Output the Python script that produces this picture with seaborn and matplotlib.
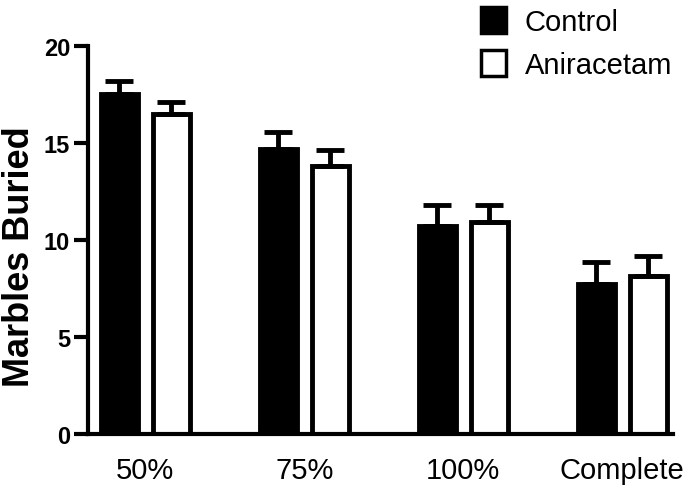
import seaborn as sns
import matplotlib.pyplot as plt
import matplotlib.patches as mpatches
import pandas as pd

conditions = ['50%', '75%', '100%', 'Complete']
groups = ['Control', 'Aniracetam']
control_mean = [17.55, 14.68, 10.70, 7.74]
control_sem = [0.65, 0.89, 1.12, 1.14]
aniracetam_mean = [16.47, 13.82, 10.93, 8.16]
aniracetam_sem = [0.63, 0.81, 0.89, 1.03]

data = pd.DataFrame({
    'condition': conditions * 2,
    'group': ['Control'] * 4 + ['Aniracetam'] * 4,
    'buried': control_mean + aniracetam_mean,
    'sem': control_sem + aniracetam_sem,
})

sns.set_style('ticks')
plt.rcParams['font.family'] = ['Liberation Sans', 'DejaVu Sans']
plt.rcParams['text.color'] = 'black'
plt.rcParams['axes.labelcolor'] = 'black'
plt.rcParams['xtick.color'] = 'black'
plt.rcParams['ytick.color'] = 'black'
plt.rcParams['axes.edgecolor'] = 'black'

fig = plt.figure(figsize=(6.94, 4.89), dpi=100)
ax = fig.add_axes([0.127, 0.110, 0.843, 0.794])

palette = {'Control': 'black', 'Aniracetam': 'white'}
sns.barplot(data=data, x='condition', y='buried', hue='group', order=conditions,
            hue_order=groups, palette=palette, edgecolor='black', linewidth=3.5,
            width=0.655, gap=0.29, errorbar=None, legend=False, ax=ax)

# upper-only SEM bars
for cont, g in zip(ax.containers, groups):
    sub = data[data['group'] == g].set_index('condition').loc[conditions]
    xs = [p.get_x() + p.get_width() / 2 for p in cont.patches]
    ax.errorbar(xs, sub['buried'], yerr=[[0] * len(xs), sub['sem']], fmt='none',
                ecolor='black', elinewidth=3.5, capsize=10, capthick=3.5, zorder=3)

ax.set_xlim(-0.36, 3.32)
ax.set_ylim(0, 20)
ax.set_yticks([0, 5, 10, 15, 20])
ax.set_xlabel('')
ax.set_ylabel('Marbles Buried', fontsize=26, fontweight='bold')
ax.yaxis.set_label_coords(-0.088, 0.459)
ax.tick_params(axis='y', length=10, width=3, labelsize=17, pad=3)
ax.tick_params(axis='x', length=0, labelsize=21, pad=16)
for lab in ax.get_yticklabels():
    lab.set_fontweight('bold')
sns.despine(ax=ax)
for s in ['left', 'bottom']:
    ax.spines[s].set_linewidth(3)

handles = [mpatches.Patch(facecolor=palette[g], edgecolor='black', linewidth=2.5, label=g)
           for g in groups]
fig.legend(handles=handles, loc='upper left', bbox_to_anchor=(0.655, 1.038), frameon=False,
           fontsize=21, handlelength=0.85, handleheight=1.0, handletextpad=0.65,
           labelspacing=0.5)

fig.savefig('out.png', dpi=100)
